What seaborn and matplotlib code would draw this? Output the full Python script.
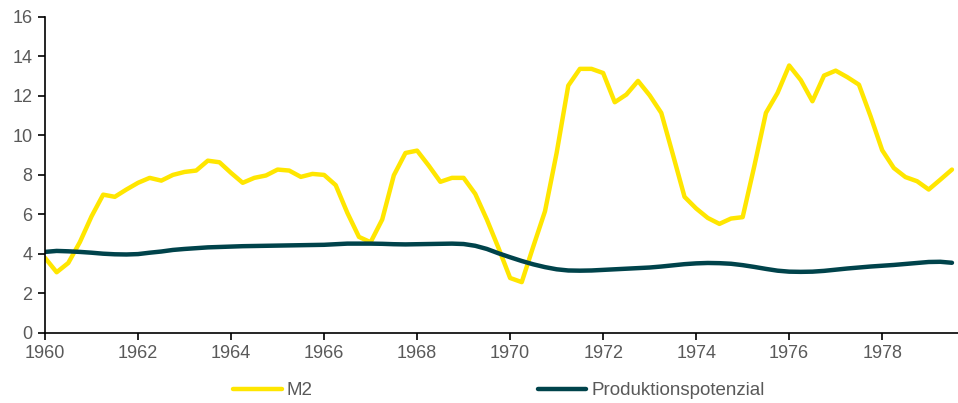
import numpy as np
import pandas as pd
import seaborn as sns
import matplotlib.pyplot as plt

# quarterly growth rates in %, 1960Q1 .. 1979Q3
m2 = [3.80, 3.07, 3.54, 4.60, 5.90, 7.00, 6.89, 7.26, 7.60, 7.85,
      7.71, 8.00, 8.15, 8.22, 8.72, 8.64, 8.10, 7.60, 7.85, 7.97,
      8.27, 8.22, 7.90, 8.05, 8.00, 7.48, 6.08, 4.86, 4.59, 5.74,
      7.98, 9.11, 9.23, 8.47, 7.65, 7.85, 7.85, 7.04, 5.74, 4.30,
      2.78, 2.57, 4.39, 6.16, 9.11, 12.52, 13.37, 13.37, 13.16, 11.68,
      12.07, 12.76, 12.03, 11.14, 9.03, 6.89, 6.30, 5.82, 5.52, 5.79,
      5.86, 8.44, 11.14, 12.15, 13.54, 12.80, 11.73, 13.03, 13.28, 12.95,
      12.57, 10.97, 9.25, 8.35, 7.89, 7.68, 7.26, 7.76, 8.27]

potenzial = [4.10, 4.15, 4.13, 4.10, 4.06, 4.01, 3.98, 3.97, 3.99, 4.06,
             4.12, 4.20, 4.25, 4.29, 4.33, 4.35, 4.37, 4.39, 4.40, 4.41,
             4.42, 4.43, 4.44, 4.45, 4.46, 4.49, 4.52, 4.52, 4.52, 4.51,
             4.49, 4.48, 4.49, 4.50, 4.51, 4.52, 4.50, 4.41, 4.25, 4.03,
             3.83, 3.64, 3.47, 3.33, 3.22, 3.16, 3.15, 3.16, 3.19, 3.22,
             3.25, 3.28, 3.31, 3.36, 3.42, 3.48, 3.52, 3.54, 3.53, 3.50,
             3.43, 3.34, 3.24, 3.15, 3.10, 3.09, 3.10, 3.14, 3.20, 3.26,
             3.31, 3.36, 3.40, 3.44, 3.49, 3.54, 3.59, 3.60, 3.55]

quarters = 1960 + np.arange(len(m2)) * 0.25
year_ticks = list(range(1960, 1980, 2))
series_names = ["M2", "Produktionspotenzial"]
colors = ["#FFE600", "#00434B"]

df = pd.concat([
    pd.DataFrame({"t": quarters, "val": m2, "serie": series_names[0]}),
    pd.DataFrame({"t": quarters, "val": potenzial, "serie": series_names[1]}),
], ignore_index=True)

sns.set_style("ticks")
plt.rcParams["font.family"] = ["Liberation Sans", "DejaVu Sans"]

fig = plt.figure(figsize=(9.58, 4.03), dpi=100)
ax = fig.add_axes([0.047, 0.174, 0.953, 0.784])

sns.lineplot(data=df, x="t", y="val", hue="serie", hue_order=series_names,
             palette=colors, linewidth=3.2, ax=ax, legend=True)

ax.set_xlim(1960, 1979.63)
ax.set_ylim(0, 16)
ax.set_xticks(year_ticks)
ax.set_yticks(range(0, 17, 2))
ax.set_xlabel("")
ax.set_ylabel("")
sns.despine(ax=ax)
for side in ["left", "bottom"]:
    ax.spines[side].set_color("black")
    ax.spines[side].set_linewidth(1.2)
ax.tick_params(axis="both", colors="black", labelcolor="#595959",
               labelsize=13, length=5, width=1.2, pad=4)
ax.grid(False)

leg = ax.legend(loc="center", bbox_to_anchor=(0.497, -0.183), ncol=2,
                frameon=False, fontsize=13.5, handlelength=2.6,
                handletextpad=0.25, columnspacing=12)
for t in leg.get_texts():
    t.set_color("#595959")

fig.savefig("out.png", dpi=100)
